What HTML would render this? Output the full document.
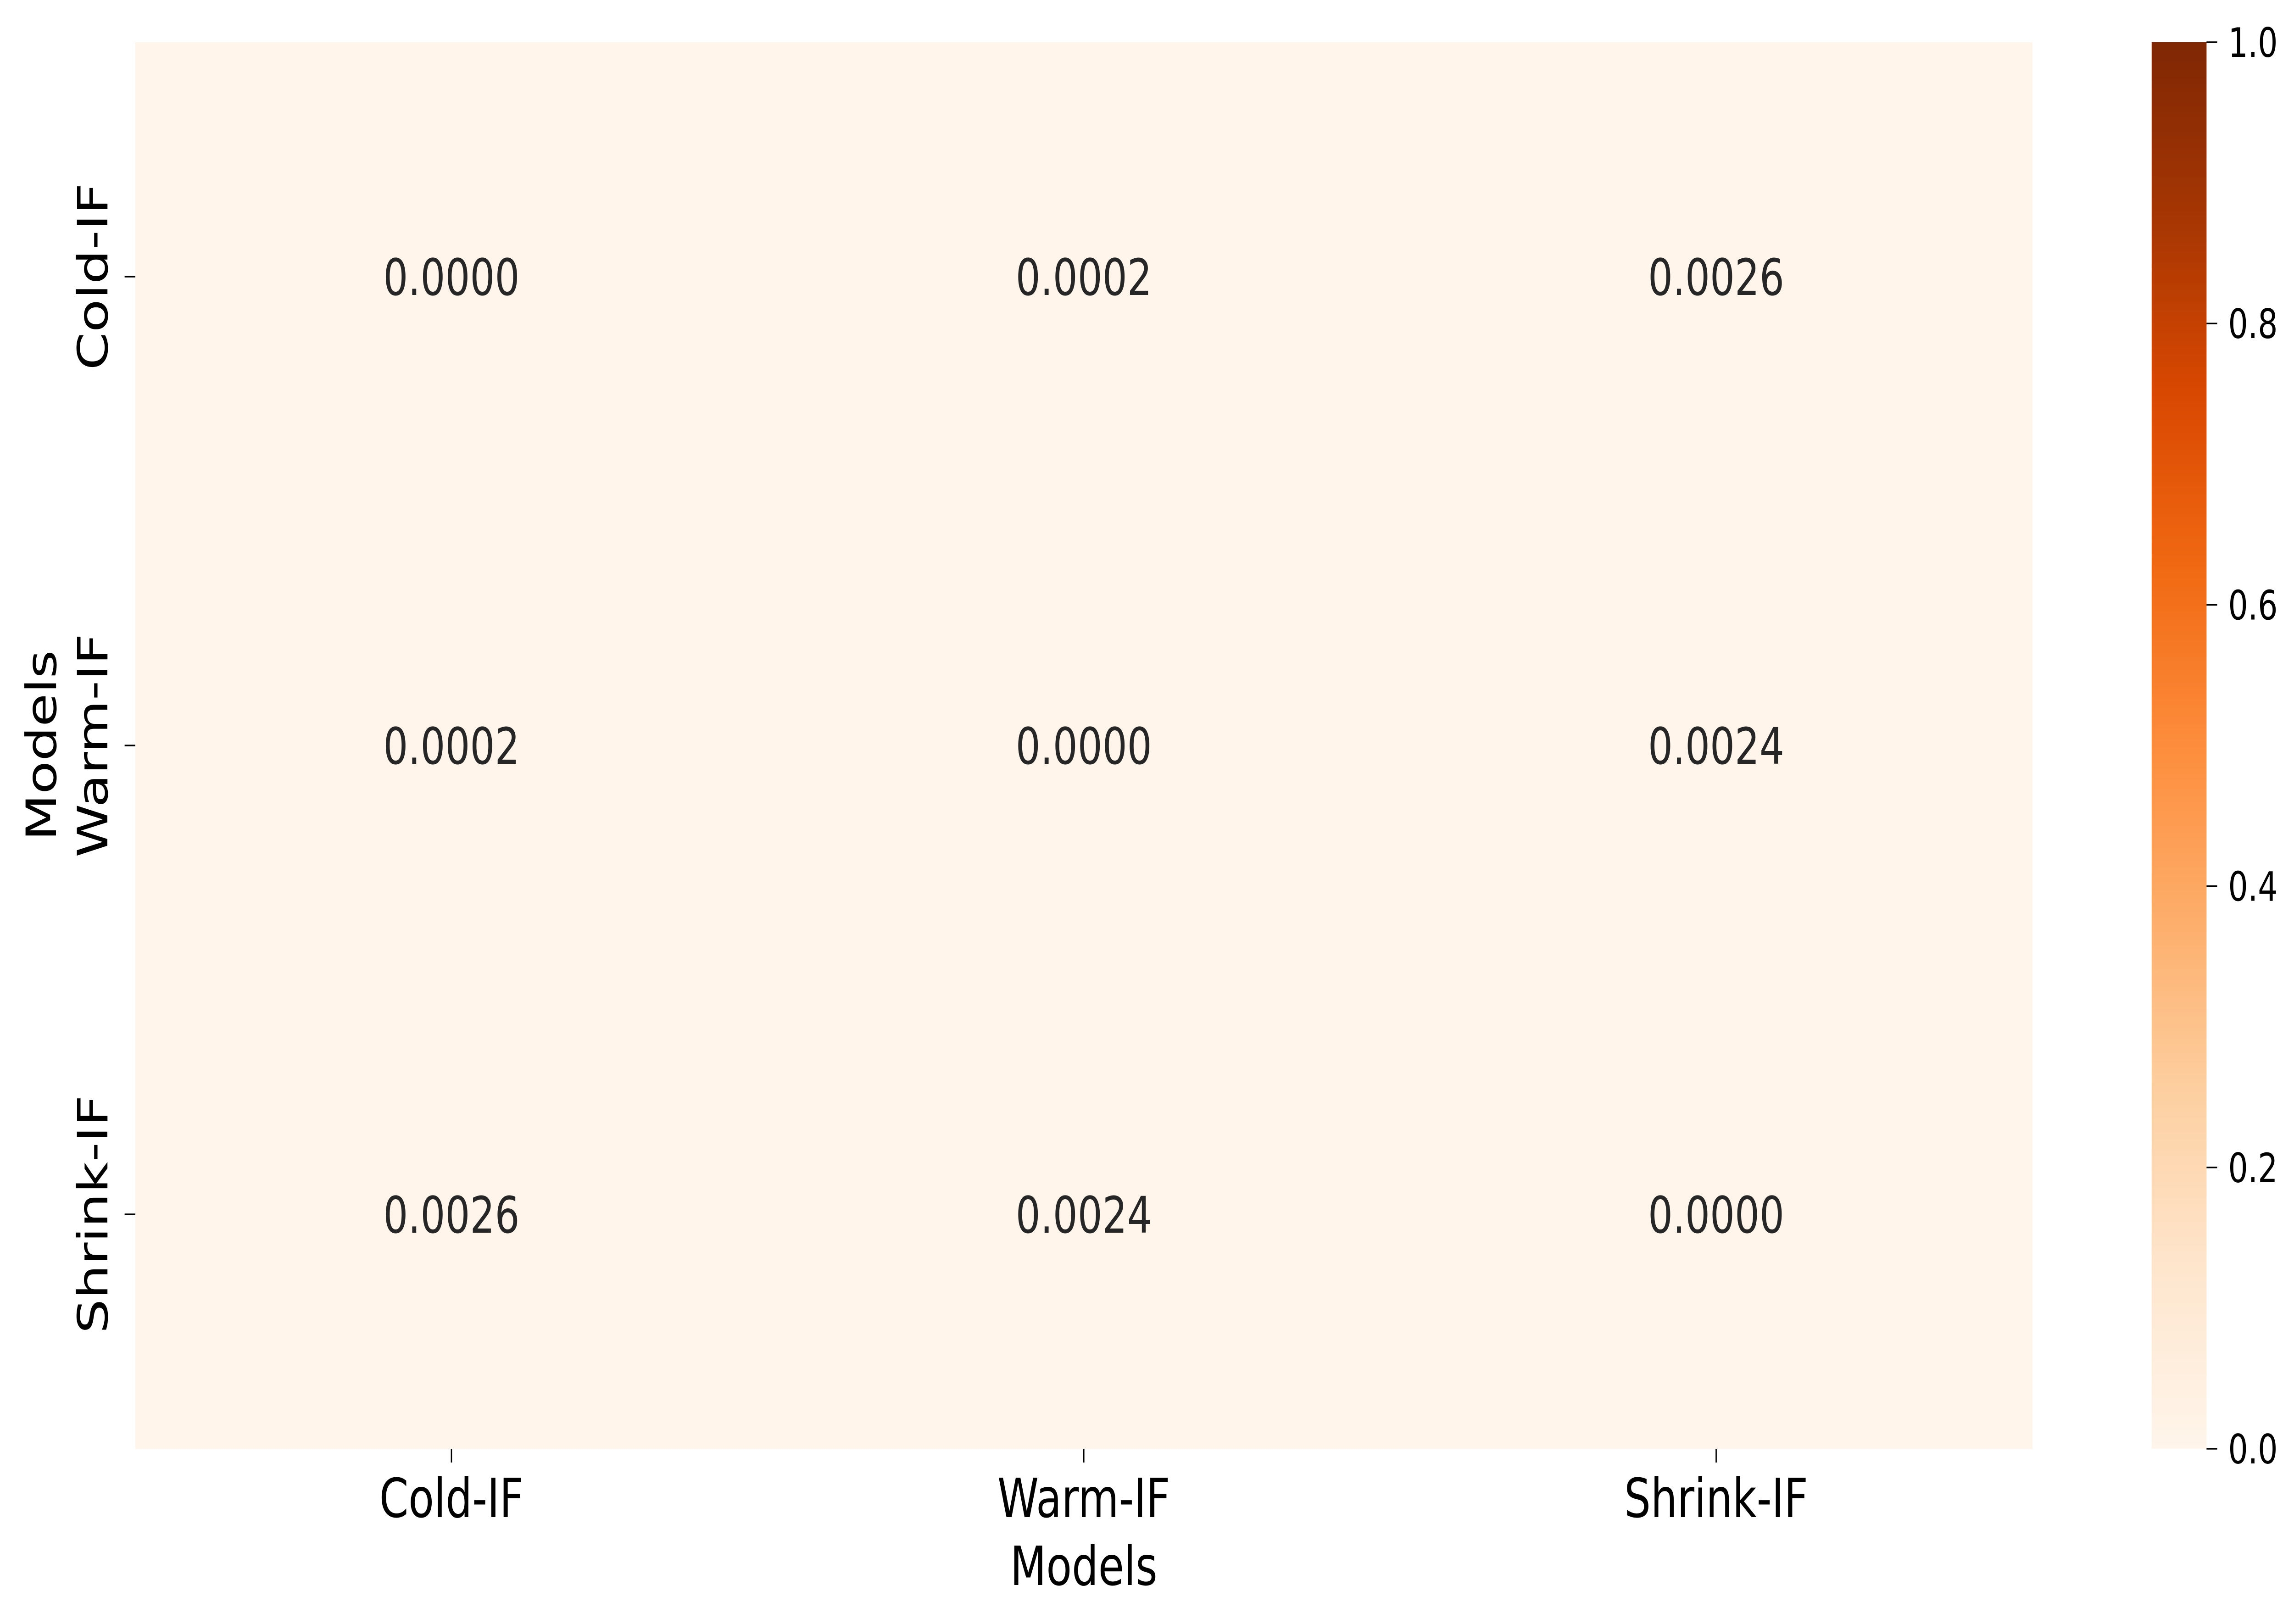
<!DOCTYPE html>
<html><head><meta charset="utf-8"><style>
html,body{margin:0;padding:0;background:#fff;width:100%;height:100%;overflow:hidden;}
svg{display:block;width:100vw;height:100vh;font-family:"DejaVu Sans","Liberation Sans",sans-serif;}
</style></head><body>
<svg id="chart" viewBox="0 0 6479 3540" preserveAspectRatio="none" xmlns="http://www.w3.org/2000/svg">
<defs>
<linearGradient id="oranges" x1="0" y1="1" x2="0" y2="0">
<stop offset="0" stop-color="#fff5eb"/><stop offset="0.125" stop-color="#fee6ce"/>
<stop offset="0.25" stop-color="#fdd0a2"/><stop offset="0.375" stop-color="#fdae6b"/>
<stop offset="0.5" stop-color="#fd8d3c"/><stop offset="0.625" stop-color="#f16913"/>
<stop offset="0.75" stop-color="#d94801"/><stop offset="0.875" stop-color="#a63603"/>
<stop offset="1" stop-color="#7f2704"/>
</linearGradient>
</defs>
<g id="cells"></g>
<g id="xticks"></g>
<g id="yticks"></g>
<text x="3061" y="3455" font-size="118" text-anchor="middle" fill="#000">Models</text>
<text transform="translate(158,1625) rotate(-90)" font-size="118" text-anchor="middle" fill="#000">Models</text>
<rect x="6077" y="92" width="155" height="3066" fill="url(#oranges)"/>
<g id="cbticks"></g>
</svg>
<script>
const categories = ["Cold-IF", "Warm-IF", "Shrink-IF"];
const row0 = [0.0000, 0.0002, 0.0026];
const row1 = [0.0002, 0.0000, 0.0024];
const row2 = [0.0026, 0.0024, 0.0000];
const cbTicks = [0.0, 0.2, 0.4, 0.6, 0.8, 1.0];
const values = [row0, row1, row2];
const NS = "http://www.w3.org/2000/svg";
const L = 382, R = 5740, T = 92, B = 3158;
const vmin = 0, vmax = 1;
const cw = (R - L) / categories.length, ch = (B - T) / categories.length;
function xPos(i) { return L + cw * (i + 0.5); }
function yPos(i) { return T + ch * (i + 0.5); }
function cbY(v) { return B - (v - vmin) / (vmax - vmin) * (B - T); }
const stops = [[0,[255,245,235]],[0.125,[254,230,206]],[0.25,[253,208,162]],[0.375,[253,174,107]],[0.5,[253,141,60]],[0.625,[241,105,19]],[0.75,[217,72,1]],[0.875,[166,54,3]],[1,[127,39,4]]];
function color(v) {
  let t = Math.max(0, Math.min(1, (v - vmin) / (vmax - vmin)));
  for (let k = 0; k < stops.length - 1; k++) {
    const a = stops[k], b = stops[k + 1];
    if (t <= b[0]) { const f = (t - a[0]) / (b[0] - a[0]); return "rgb(" + a[1].map((c, j) => Math.round(c + (b[1][j] - c) * f)).join(",") + ")"; }
  }
  return "rgb(127,39,4)";
}
function mk(tag, attrs, parent) { const e = document.createElementNS(NS, tag); for (const k in attrs) e.setAttribute(k, attrs[k]); parent.appendChild(e); return e; }
const cells = document.getElementById("cells");
values.forEach((row, r) => row.forEach((v, c) => {
  const rect = mk("rect", { x: L + cw * c, y: T + ch * r, width: cw + 0.5, height: ch + 0.5, fill: color(v) }, cells);
  
  
  const t = mk("text", { x: xPos(c), y: yPos(r) + 40, "font-size": 110, "text-anchor": "middle", fill: "#262626" }, cells);
  t.textContent = v.toFixed(4);
  
  
}));
const xt = document.getElementById("xticks");
categories.forEach((c, i) => {
  const l = mk("line", { x1: xPos(i), x2: xPos(i), y1: B, y2: B + 30, stroke: "#000", "stroke-width": 3.5 }, xt);
  
  
  const t = mk("text", { x: xPos(i), y: 3307, "font-size": 118, "text-anchor": "middle", fill: "#000" }, xt);
  t.textContent = c;
  
  
});
const yt = document.getElementById("yticks");
categories.forEach((c, i) => {
  const l = mk("line", { x1: L - 30, x2: L, y1: yPos(i), y2: yPos(i), stroke: "#000", "stroke-width": 3.5 }, yt);
  
  
  const t = mk("text", { transform: "translate(303," + yPos(i) + ") rotate(-90)", "font-size": 118, "text-anchor": "middle", fill: "#000" }, yt);
  t.textContent = c;
  
  
});
const cb = document.getElementById("cbticks");
cbTicks.forEach(v => {
  const l = mk("line", { x1: 6232, x2: 6262, y1: cbY(v), y2: cbY(v), stroke: "#000", "stroke-width": 3.5 }, cb);
  
  
  const t = mk("text", { x: 6293, y: cbY(v) + 32, "font-size": 88, fill: "#000" }, cb);
  t.textContent = v.toFixed(1);
  
  
});
</script>
</body></html>
